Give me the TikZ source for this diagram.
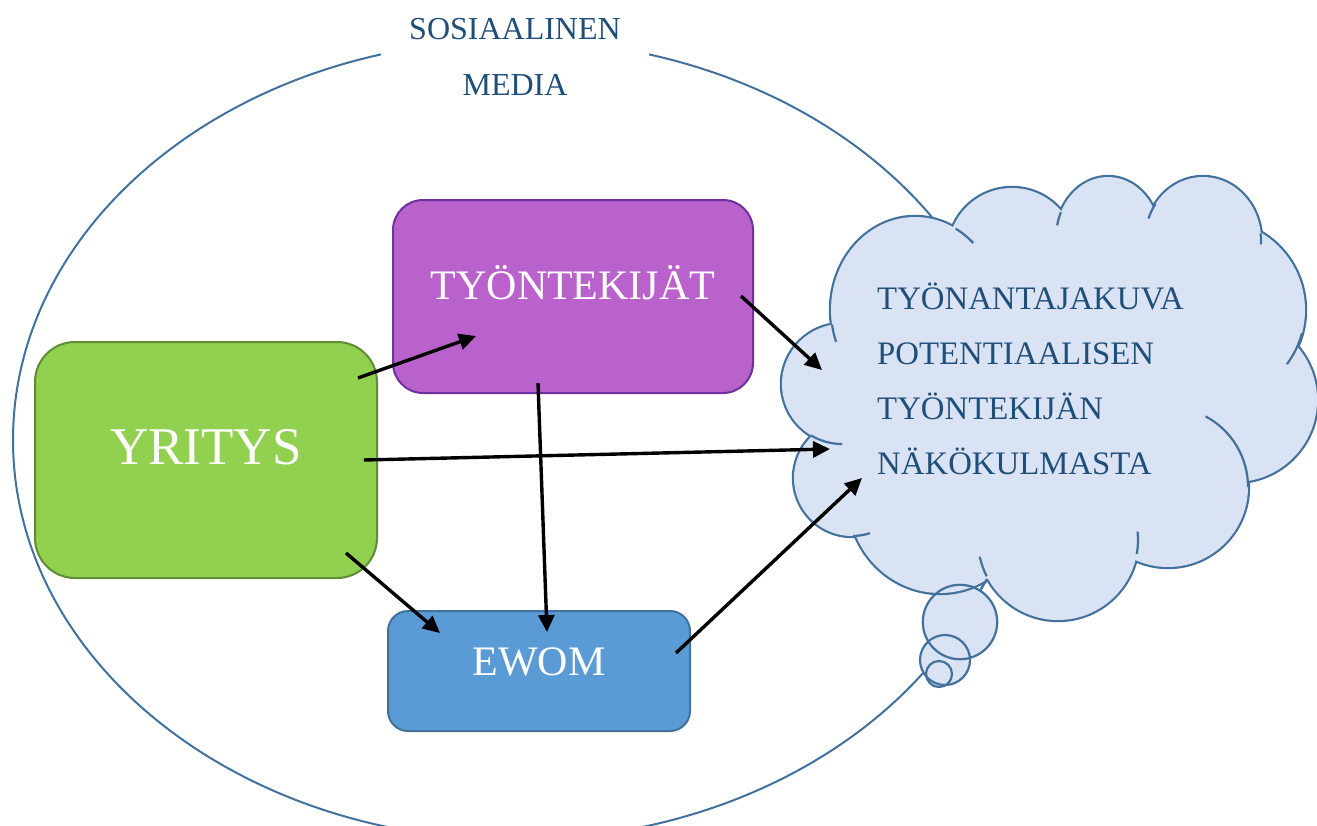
\documentclass[tikz,border=0pt]{standalone}
\usepackage{fontspec}
\setmainfont{Liberation Serif}
\usetikzlibrary{arrows.meta}

\definecolor{soikioviiva}{RGB}{65,113,156}
\definecolor{tummasini}{RGB}{31,78,121}
\definecolor{vihrea}{RGB}{146,208,80}
\definecolor{vihreaviiva}{RGB}{96,140,52}
\definecolor{violetti}{RGB}{186,98,204}
\definecolor{violettiviiva}{RGB}{112,48,160}
\definecolor{sininen}{RGB}{91,155,213}
\definecolor{sininenviiva}{RGB}{65,113,156}
\definecolor{pilvi}{RGB}{218,227,243}

\tikzset{
	laatikko/.style={rounded corners=#1, line width=2pt, text=white, inner sep=0pt},
	nuoli/.style={line width=3.4pt, -{Triangle[length=17pt,width=16pt]}},
	puhvi/.style={fill=pilvi, draw=soikioviiva, line width=4.4pt},
	puhvitaytto/.style={fill=pilvi},
	poimu/.style={draw=soikioviiva, line width=2.2pt},
}

\begin{document}
\begin{tikzpicture}[x=1pt, y=-1pt]
			%%%%% START %%%%%
			\useasboundingbox (0,0) rectangle (1317,825);
			\clip (0,0) rectangle (1317,825);
			
			\draw[soikioviiva, line width=2pt] (515,440) ellipse [x radius=502, y radius=400];
			\node[fill=white, text=tummasini, align=center, font=\fontsize{32}{56}\selectfont, minimum width=268pt, minimum height=110pt] (media) at (515,57) {SOSIAALINEN\\MEDIA};
			
			\node[laatikko=40pt, fill=vihrea, draw=vihreaviiva, minimum width=342pt, minimum height=236pt, font=\fontsize{53}{60}\selectfont, text height=35pt, text depth=26pt] (yritys) at (206,460) {YRITYS};
			\node[laatikko=30pt, fill=violetti, draw=violettiviiva, minimum width=360pt, minimum height=193pt, font=\fontsize{42}{50}\selectfont, text height=28pt, text depth=23pt] (tyontekijat) at (573,296.5) {TYÖNTEKIJÄT};
			\node[laatikko=20pt, fill=sininen, draw=sininenviiva, minimum width=302pt, minimum height=120pt, font=\fontsize{42}{50}\selectfont, text height=28pt, text depth=20pt] (ewom) at (539,671) {EWOM};
			
			% kuplat
			\foreach \bx/\by/\br in {960/622/37.2, 945/660/25, 939/674/13}
				\fill[puhvitaytto] (\bx,\by) circle [radius=\br];
			
			% pilvi
			\foreach \cx/\cy/\rx/\ry in {842/384/60/60, 852/478/58/58, 940/497/92/96, 1058/540/80/80, 1168/487/80/80, 1235/400/82/82, 1215/310/90/90, 1203/240/58/63, 1108/238/52/61, 1012/252/64/64, 915/310/84/93}
				\draw[puhvi] (\cx,\cy) ellipse [x radius=\rx, y radius=\ry];
			\fill[puhvitaytto] (1045,400) ellipse [x radius=210, y radius=160];
			\foreach \cx/\cy/\rx/\ry in {842/384/60/60, 852/478/58/58, 940/497/92/96, 1058/540/80/80, 1168/487/80/80, 1235/400/82/82, 1215/310/90/90, 1203/240/58/63, 1108/238/52/61, 1012/252/64/64, 915/310/84/93}
				\fill[puhvitaytto] (\cx,\cy) ellipse [x radius=\rx, y radius=\ry];
			\foreach \cx/\cy/\rx/\ry/\a/\b in {915/310/84/93/-61/-46, 1108/238/52/61/205/192, 1203/240/58/63/215/200, 1203/240/58/63/-6/4, 1215/310/90/90/15/37, 1168/487/80/80/-62/0, 1058/540/80/80/10/-6, 1058/540/80/80/153/168, 852/478/58/58/89/72, 842/384/60/60/121/90, 915/310/84/93/171/160}
				\draw[poimu] ([shift={({\rx*cos(\a)},{\ry*sin(\a)})}]\cx,\cy) arc [start angle=\a, end angle=\b, x radius=\rx, y radius=\ry];
			\draw[poimu] (987,579) -- (980,591);
			
			\foreach \bx/\by/\br in {960/622/37.2, 945/660/25, 939/674/13}
				\draw[poimu] (\bx,\by) circle [radius=\br];
			
			\node[text=tummasini, align=left, anchor=west, inner sep=0pt, font=\fontsize{32.8}{55}\selectfont] (kuva) at (877,379) {TYÖNANTAJAKUVA\\POTENTIAALISEN\\TYÖNTEKIJÄN\\NÄKÖKULMASTA};
			
			% nuolet
			\draw[nuoli] ([shift={(-20,-82)}]yritys.east) -- ([shift={(-97,39.5)}]tyontekijat.center);
			\draw[nuoli] ([shift={(-14,0)}]yritys.east) -- ([shift={(-47,70)}]kuva.west);
			\draw[nuoli] ([shift={(-32,93)}]yritys.east) -- ([shift={(-99,-38)}]ewom.center);
			\draw[nuoli] ([shift={(-35,86.5)}]tyontekijat.center) -- ([shift={(8,-39)}]ewom.center);
			\draw[nuoli] ([shift={(168,-0.5)}]tyontekijat.center) -- ([shift={(-55,-9)}]kuva.west);
			\draw[nuoli] ([shift={(137,-18)}]ewom.center) -- ([shift={(-15,99)}]kuva.west);
			
			%%%%% END %%%%%
\end{tikzpicture}
\end{document}
